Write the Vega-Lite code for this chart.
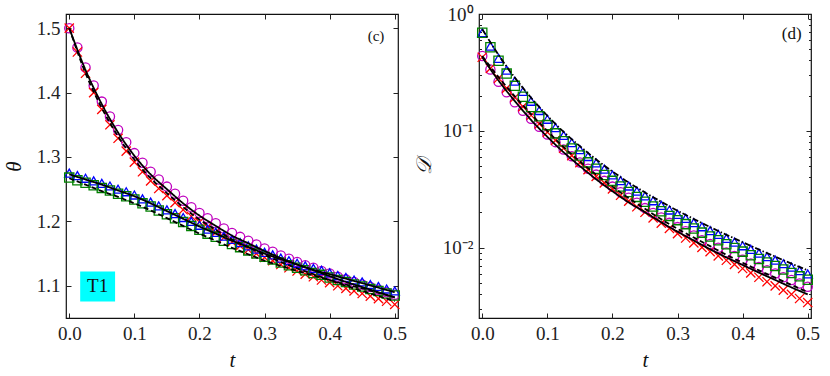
{
  "$schema": "https://vega.github.io/schema/vega-lite/v6.json",
  "padding": {"left": 2, "top": 4, "right": 5, "bottom": 5},
  "background": "white",
  "config": {
    "view": {"stroke": "#111", "strokeWidth": 1.2},
    "axis": {
      "domain": false, "grid": false,
      "labelFont": "Liberation Serif", "labelFontSize": 19, "labelColor": "#222",
      "tickColor": "#222", "tickSize": -5, "tickWidth": 1, "labelPadding": 11,
      "labelFlush": false, "labelOverlap": false,
      "titleFont": "Liberation Serif", "titleFontSize": 21, "titleFontStyle": "italic",
      "titleFontWeight": "normal", "titleColor": "#111"
    }
  },
  "datasets": {
    "L": [
      {"t":0,"O":1.500,"X":1.500,"T":1.275,"S":1.268},
      {"t":0.0125,"O":1.470,"X":1.463,"T":1.271,"S":1.264},
      {"t":0.025,"O":1.439,"X":1.430,"T":1.267,"S":1.260},
      {"t":0.0375,"O":1.411,"X":1.400,"T":1.263,"S":1.256},
      {"t":0.05,"O":1.386,"X":1.374,"T":1.259,"S":1.252},
      {"t":0.0625,"O":1.363,"X":1.350,"T":1.255,"S":1.248},
      {"t":0.075,"O":1.342,"X":1.329,"T":1.250,"S":1.243},
      {"t":0.0875,"O":1.323,"X":1.309,"T":1.246,"S":1.239},
      {"t":0.1,"O":1.306,"X":1.292,"T":1.241,"S":1.234},
      {"t":0.1125,"O":1.291,"X":1.277,"T":1.235,"S":1.228},
      {"t":0.125,"O":1.277,"X":1.263,"T":1.230,"S":1.223},
      {"t":0.1375,"O":1.265,"X":1.251,"T":1.224,"S":1.217},
      {"t":0.15,"O":1.254,"X":1.240,"T":1.218,"S":1.211},
      {"t":0.1625,"O":1.243,"X":1.229,"T":1.212,"S":1.205},
      {"t":0.175,"O":1.232,"X":1.218,"T":1.206,"S":1.199},
      {"t":0.1875,"O":1.222,"X":1.208,"T":1.200,"S":1.193},
      {"t":0.2,"O":1.213,"X":1.199,"T":1.194,"S":1.187},
      {"t":0.2125,"O":1.205,"X":1.191,"T":1.188,"S":1.181},
      {"t":0.225,"O":1.197,"X":1.183,"T":1.183,"S":1.176},
      {"t":0.2375,"O":1.189,"X":1.175,"T":1.177,"S":1.170},
      {"t":0.25,"O":1.182,"X":1.168,"T":1.172,"S":1.165},
      {"t":0.2625,"O":1.176,"X":1.162,"T":1.167,"S":1.160},
      {"t":0.275,"O":1.170,"X":1.156,"T":1.162,"S":1.155},
      {"t":0.2875,"O":1.164,"X":1.150,"T":1.157,"S":1.150},
      {"t":0.3,"O":1.158,"X":1.144,"T":1.152,"S":1.145},
      {"t":0.3125,"O":1.153,"X":1.139,"T":1.148,"S":1.141},
      {"t":0.325,"O":1.147,"X":1.133,"T":1.143,"S":1.136},
      {"t":0.3375,"O":1.142,"X":1.128,"T":1.139,"S":1.132},
      {"t":0.35,"O":1.137,"X":1.123,"T":1.135,"S":1.128},
      {"t":0.3625,"O":1.132,"X":1.118,"T":1.131,"S":1.124},
      {"t":0.375,"O":1.128,"X":1.114,"T":1.127,"S":1.120},
      {"t":0.3875,"O":1.123,"X":1.109,"T":1.124,"S":1.117},
      {"t":0.4,"O":1.119,"X":1.105,"T":1.120,"S":1.113},
      {"t":0.4125,"O":1.114,"X":1.100,"T":1.116,"S":1.109},
      {"t":0.425,"O":1.110,"X":1.096,"T":1.113,"S":1.106},
      {"t":0.4375,"O":1.106,"X":1.092,"T":1.109,"S":1.102},
      {"t":0.45,"O":1.102,"X":1.088,"T":1.106,"S":1.099},
      {"t":0.4625,"O":1.098,"X":1.084,"T":1.102,"S":1.095},
      {"t":0.475,"O":1.094,"X":1.080,"T":1.099,"S":1.092},
      {"t":0.4875,"O":1.090,"X":1.076,"T":1.095,"S":1.088},
      {"t":0.5,"O":1.086,"X":1.071,"T":1.092,"S":1.085}
    ],
    "LL": [
      {"t":0,"a":1.5,"b":1.5,"c":1.273,"d":1.267},
      {"t":0.025,"a":1.435,"b":1.430,"c":1.265,"d":1.257},
      {"t":0.05,"a":1.382,"b":1.376,"c":1.257,"d":1.247},
      {"t":0.075,"a":1.338,"b":1.332,"c":1.248,"d":1.238},
      {"t":0.1,"a":1.302,"b":1.296,"c":1.239,"d":1.228},
      {"t":0.125,"a":1.273,"b":1.267,"c":1.228,"d":1.217},
      {"t":0.15,"a":1.250,"b":1.244,"c":1.216,"d":1.205},
      {"t":0.175,"a":1.228,"b":1.222,"c":1.204,"d":1.193},
      {"t":0.2,"a":1.209,"b":1.203,"c":1.192,"d":1.181},
      {"t":0.225,"a":1.193,"b":1.187,"c":1.181,"d":1.170},
      {"t":0.25,"a":1.178,"b":1.172,"c":1.170,"d":1.159},
      {"t":0.275,"a":1.166,"b":1.160,"c":1.160,"d":1.149},
      {"t":0.3,"a":1.154,"b":1.148,"c":1.150,"d":1.139},
      {"t":0.325,"a":1.143,"b":1.137,"c":1.141,"d":1.131},
      {"t":0.35,"a":1.133,"b":1.127,"c":1.133,"d":1.123},
      {"t":0.375,"a":1.124,"b":1.118,"c":1.125,"d":1.116},
      {"t":0.4,"a":1.115,"b":1.109,"c":1.118,"d":1.109},
      {"t":0.425,"a":1.106,"b":1.100,"c":1.111,"d":1.102},
      {"t":0.45,"a":1.098,"b":1.092,"c":1.104,"d":1.096},
      {"t":0.475,"a":1.090,"b":1.084,"c":1.097,"d":1.089},
      {"t":0.5,"a":1.082,"b":1.076,"c":1.090,"d":1.082}
    ],
    "R": [
      {"t":0,"O":0.4365,"X":0.4266,"T":0.6918,"S":0.69},
      {"t":0.0125,"O":0.3350,"X":0.3428,"T":0.5309,"S":0.5187},
      {"t":0.025,"O":0.2631,"X":0.2819,"T":0.4169,"S":0.3981},
      {"t":0.0375,"O":0.2138,"X":0.2317,"T":0.3311,"S":0.3089},
      {"t":0.05,"O":0.1758,"X":0.1928,"T":0.2661,"S":0.2427},
      {"t":0.0625,"O":0.1486,"X":0.1611,"T":0.2173,"S":0.1960},
      {"t":0.075,"O":0.1268,"X":0.1359,"T":0.1791,"S":0.1596},
      {"t":0.0875,"O":0.1082,"X":0.1146,"T":0.1493,"S":0.1330},
      {"t":0.1,"O":0.0931,"X":0.0975,"T":0.1256,"S":0.1119},
      {"t":0.1125,"O":0.0800,"X":0.0828,"T":0.1067,"S":0.0951},
      {"t":0.125,"O":0.0693,"X":0.0709,"T":0.0914,"S":0.0814},
      {"t":0.1375,"O":0.0607,"X":0.0614,"T":0.0791,"S":0.0705},
      {"t":0.15,"O":0.0535,"X":0.0535,"T":0.0689,"S":0.0614},
      {"t":0.1625,"O":0.0473,"X":0.0466,"T":0.0603,"S":0.0537},
      {"t":0.175,"O":0.0422,"X":0.0407,"T":0.0531,"S":0.0473},
      {"t":0.1875,"O":0.0373,"X":0.0359,"T":0.0470,"S":0.0419},
      {"t":0.2,"O":0.0333,"X":0.0318,"T":0.0419,"S":0.0373},
      {"t":0.2125,"O":0.0298,"X":0.0281,"T":0.0375,"S":0.0334},
      {"t":0.225,"O":0.0268,"X":0.0250,"T":0.0337,"S":0.0300},
      {"t":0.2375,"O":0.0242,"X":0.0224,"T":0.0305,"S":0.0272},
      {"t":0.25,"O":0.0218,"X":0.0201,"T":0.0277,"S":0.0247},
      {"t":0.2625,"O":0.0198,"X":0.0180,"T":0.0252,"S":0.0225},
      {"t":0.275,"O":0.0181,"X":0.0162,"T":0.0230,"S":0.0205},
      {"t":0.2875,"O":0.0163,"X":0.0146,"T":0.0210,"S":0.0187},
      {"t":0.3,"O":0.0150,"X":0.0132,"T":0.0193,"S":0.0172},
      {"t":0.3125,"O":0.0138,"X":0.0121,"T":0.0178,"S":0.0159},
      {"t":0.325,"O":0.0127,"X":0.0110,"T":0.0164,"S":0.0146},
      {"t":0.3375,"O":0.01159,"X":0.01007,"T":0.0151,"S":0.01345},
      {"t":0.35,"O":0.01074,"X":0.00925,"T":0.0140,"S":0.01247},
      {"t":0.3625,"O":0.00998,"X":0.00851,"T":0.0130,"S":0.01158},
      {"t":0.375,"O":0.00910,"X":0.00780,"T":0.0120,"S":0.01069},
      {"t":0.3875,"O":0.00847,"X":0.00720,"T":0.01117,"S":0.00995},
      {"t":0.4,"O":0.00787,"X":0.00663,"T":0.01038,"S":0.00925},
      {"t":0.4125,"O":0.00733,"X":0.00608,"T":0.00966,"S":0.00861},
      {"t":0.425,"O":0.00682,"X":0.00558,"T":0.00899,"S":0.00801},
      {"t":0.4375,"O":0.00642,"X":0.00511,"T":0.00837,"S":0.00746},
      {"t":0.45,"O":0.00600,"X":0.00471,"T":0.00782,"S":0.00697},
      {"t":0.4625,"O":0.00559,"X":0.00433,"T":0.00729,"S":0.00650},
      {"t":0.475,"O":0.00529,"X":0.00399,"T":0.00681,"S":0.00607},
      {"t":0.4875,"O":0.00494,"X":0.00367,"T":0.00637,"S":0.00568},
      {"t":0.5,"O":0.00463,"X":0.00339,"T":0.00596,"S":0.00531}
    ],
    "RL": [
      {"t":0,"a":0.7416,"b":0.4365,"c":0.4266},
      {"t":0.025,"a":0.4469,"b":0.2884,"c":0.2692},
      {"t":0.05,"a":0.2853,"b":0.1973,"c":0.1799},
      {"t":0.075,"a":0.1920,"b":0.1390,"c":0.1239},
      {"t":0.1,"a":0.1346,"b":0.0998,"c":0.0889},
      {"t":0.125,"a":0.0980,"b":0.0726,"c":0.0655},
      {"t":0.15,"a":0.0739,"b":0.0547,"c":0.0499},
      {"t":0.175,"a":0.0569,"b":0.0422,"c":0.0385},
      {"t":0.2,"a":0.0449,"b":0.0333,"c":0.0304},
      {"t":0.225,"a":0.0361,"b":0.0265,"c":0.0244},
      {"t":0.25,"a":0.0297,"b":0.0215,"c":0.0201},
      {"t":0.275,"a":0.0247,"b":0.0175,"c":0.0165},
      {"t":0.3,"a":0.0207,"b":0.0145,"c":0.0137},
      {"t":0.325,"a":0.0176,"b":0.0122,"c":0.0115},
      {"t":0.35,"a":0.0150,"b":0.0103,"c":0.00969},
      {"t":0.375,"a":0.0129,"b":0.00869,"c":0.00825},
      {"t":0.4,"a":0.01113,"b":0.00743,"c":0.00710},
      {"t":0.425,"a":0.00964,"b":0.00639,"c":0.00611},
      {"t":0.45,"a":0.00838,"b":0.00554,"c":0.00529},
      {"t":0.475,"a":0.00730,"b":0.00479,"c":0.00457},
      {"t":0.5,"a":0.00639,"b":0.00417,"c":0.00398}
    ]
  },
  "hconcat": [
    {
      "width": 332, "height": 304,
      "resolve": {"axis": {"x": "independent", "y": "independent"}},
      "layer": [
        {
          "data": {"name": "L"},
          "transform": [{"fold": ["O", "X", "T", "S"], "as": ["s", "v"]}],
          "mark": {"type": "point", "filled": false, "strokeWidth": 1.3, "size": 85, "opacity": 1},
          "encoding": {
            "x": {"field": "t", "type": "quantitative",
              "scale": {"domain": [-0.005, 0.505], "nice": false, "zero": false},
              "axis": {"orient": "bottom", "values": [0, 0.1, 0.2, 0.3, 0.4, 0.5], "format": ".1f", "title": "t", "titlePadding": 6}},
            "y": {"field": "v", "type": "quantitative",
              "scale": {"domain": [1.05, 1.522], "nice": false, "zero": false},
              "axis": {"orient": "left", "values": [1.1, 1.2, 1.3, 1.4, 1.5], "format": ".1f", "title": "θ", "titlePadding": 12}},
            "color": {"field": "s", "type": "nominal", "scale": {"domain": ["O", "X", "T", "S"], "range": ["#bf00bf", "#ff0000", "#0000ff", "#008000"]}, "legend": null},
            "shape": {"field": "s", "type": "nominal", "scale": {"domain": ["O", "X", "T", "S"], "range": ["circle", "M-1,-1L1,1M-1,1L1,-1", "triangle-up", "square"]}, "legend": null}
          }
        },
        {
          "data": {"name": "LL"},
          "transform": [{"fold": ["a", "b", "c", "d"], "as": ["k", "v"]}],
          "mark": {"type": "line", "color": "black", "strokeWidth": 1.8, "interpolate": "monotone"},
          "encoding": {
            "x": {"field": "t", "type": "quantitative", "axis": {"orient": "top", "labels": false, "title": null, "values": [0, 0.1, 0.2, 0.3, 0.4, 0.5]}},
            "y": {"field": "v", "type": "quantitative", "axis": {"orient": "right", "labels": false, "title": null, "values": [1.1, 1.2, 1.3, 1.4, 1.5]}},
            "detail": {"field": "k", "type": "nominal"},
            "strokeDash": {"field": "k", "type": "nominal", "scale": {"domain": ["a", "b", "c", "d"], "range": [[1, 0], [5, 3], [1, 0], [5, 3]]}, "legend": null}
          }
        },
        {
          "data": {"values": [{"label": "T1"}]},
          "mark": {"type": "rect", "color": "#00ffff"},
          "encoding": {
            "x": {"datum": 0.0168, "type": "quantitative", "axis": null},
            "x2": {"datum": 0.0704},
            "y": {"datum": 1.0757, "type": "quantitative", "axis": null},
            "y2": {"datum": 1.1222}
          }
        },
        {
          "data": {"values": [{"label": "T1"}]},
          "mark": {"type": "text", "font": "Liberation Serif", "fontSize": 19, "color": "#111", "align": "center", "baseline": "middle"},
          "encoding": {
            "x": {"datum": 0.0436, "type": "quantitative", "axis": null},
            "y": {"datum": 1.0995, "type": "quantitative", "axis": null},
            "text": {"field": "label"}
          }
        },
        {
          "data": {"values": [{"label": "(c)"}]},
          "mark": {"type": "text", "font": "Liberation Serif", "fontSize": 15, "color": "#111", "align": "right", "baseline": "middle"},
          "encoding": {
            "x": {"datum": 0.484, "type": "quantitative", "axis": null},
            "y": {"datum": 1.4885, "type": "quantitative", "axis": null},
            "text": {"field": "label"}
          }
        }
      ]
    },
    {
      "width": 332, "height": 304,
      "resolve": {"axis": {"x": "independent", "y": "independent"}},
      "layer": [
        {
          "data": {"name": "R"},
          "transform": [{"fold": ["O", "X", "T", "S"], "as": ["s", "v"]}],
          "mark": {"type": "point", "filled": false, "strokeWidth": 1.3, "size": 85, "opacity": 1},
          "encoding": {
            "x": {"field": "t", "type": "quantitative",
              "scale": {"domain": [-0.005, 0.505], "nice": false, "zero": false},
              "axis": {"orient": "bottom", "values": [0, 0.1, 0.2, 0.3, 0.4, 0.5], "format": ".1f", "title": "t", "titlePadding": 6}},
            "y": {"field": "v", "type": "quantitative",
              "scale": {"type": "log", "domain": [0.0025, 1], "nice": false},
              "axis": {"orient": "left", "values": [0.01, 0.1, 1], "labelExpr": "datum.value > 0.5 ? '10⁰' : datum.value > 0.05 ? '10⁻¹' : '10⁻²'", "title": "𝒟", "titlePadding": 8}},
            "color": {"field": "s", "type": "nominal", "scale": {"domain": ["O", "X", "T", "S"], "range": ["#bf00bf", "#ff0000", "#0000ff", "#008000"]}, "legend": null},
            "shape": {"field": "s", "type": "nominal", "scale": {"domain": ["O", "X", "T", "S"], "range": ["circle", "M-1,-1L1,1M-1,1L1,-1", "triangle-up", "square"]}, "legend": null}
          }
        },
        {
          "data": {"name": "RL"},
          "transform": [{"fold": ["a"], "as": ["k", "v"]}],
          "mark": {"type": "line", "color": "black", "strokeWidth": 1.8, "interpolate": "monotone", "strokeDash": [6, 2, 1.5, 2]},
          "encoding": {
            "x": {"field": "t", "type": "quantitative", "axis": {"orient": "top", "labels": false, "title": null, "values": [0, 0.1, 0.2, 0.3, 0.4, 0.5]}},
            "y": {"field": "v", "type": "quantitative", "axis": {"orient": "right", "labels": false, "title": null, "values": [0.01, 0.1, 1]}}
          }
        },
        {
          "data": {"name": "RL"},
          "transform": [{"fold": ["b", "c"], "as": ["k", "v"]}],
          "mark": {"type": "line", "color": "black", "strokeWidth": 1.8, "interpolate": "monotone"},
          "encoding": {
            "x": {"field": "t", "type": "quantitative", "axis": null},
            "y": {"field": "v", "type": "quantitative", "axis": {"orient": "left", "labels": false, "title": null, "tickSize": -2.5, "values": [0.003, 0.004, 0.005, 0.006, 0.007, 0.008, 0.009, 0.02, 0.03, 0.04, 0.05, 0.06, 0.07, 0.08, 0.09, 0.2, 0.3, 0.4, 0.5, 0.6, 0.7, 0.8, 0.9]}},
            "detail": {"field": "k", "type": "nominal"},
            "strokeDash": {"field": "k", "type": "nominal", "scale": {"domain": ["b", "c"], "range": [[1, 0], [5, 3]]}, "legend": null}
          }
        },
        {
          "data": {"values": [{"label": "(d)"}]},
          "mark": {"type": "text", "font": "Liberation Serif", "fontSize": 17, "color": "#111", "align": "right", "baseline": "middle"},
          "encoding": {
            "x": {"datum": 0.4907, "type": "quantitative", "axis": null},
            "y": {"datum": 0.673, "type": "quantitative", "axis": {"orient": "right", "labels": false, "title": null, "tickSize": -2.5, "values": [0.003, 0.004, 0.005, 0.006, 0.007, 0.008, 0.009, 0.02, 0.03, 0.04, 0.05, 0.06, 0.07, 0.08, 0.09, 0.2, 0.3, 0.4, 0.5, 0.6, 0.7, 0.8, 0.9]}},
            "text": {"field": "label"}
          }
        }
      ]
    }
  ],
  "spacing": 81,
  "bounds": "flush"
}
